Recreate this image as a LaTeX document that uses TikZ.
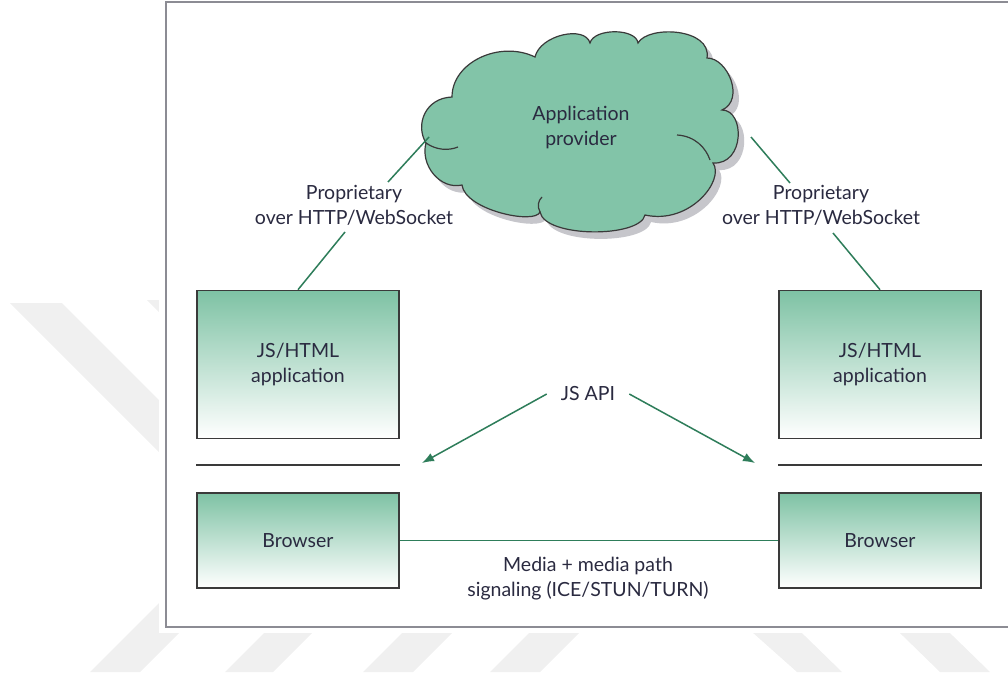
\documentclass[tikz,border=0pt]{standalone}
\usepackage{fontspec}
\setmainfont{Lato}
\usetikzlibrary{arrows.meta,calc}

\definecolor{ink}{HTML}{2A2A40}
\definecolor{puffgreen}{HTML}{82C4A8}
\definecolor{boxgreen}{HTML}{7EC2A4}
\definecolor{linkgreen}{HTML}{2E7D5A}
\definecolor{edgegray}{HTML}{3A3A3A}
\definecolor{framegray}{HTML}{8C8C94}
\definecolor{shadowgray}{HTML}{C6C6CB}
\definecolor{markgray}{HTML}{F0F0F0}

\newcommand\lblfont{\fontsize{19.5}{25}\selectfont}

% outline of the provider cloud (one puff per curve segment)
\newcommand\cloudoutline{(426,143) .. controls (415,125) and (425,98) .. (452,97)
  .. controls (452,62) and (500,40) .. (535,57)
  .. controls (540,35) and (585,25) .. (590,43)
  .. controls (594,28) and (636,28) .. (638,43)
  .. controls (648,25) and (712,28) .. (707,58)
  .. controls (728,58) and (745,100) .. (722,110)
  .. controls (745,110) and (745,165) .. (713,163)
  .. controls (725,180) and (690,225) .. (645,215)
  .. controls (640,238) and (545,238) .. (540,212)
  .. controls (535,225) and (465,210) .. (462,185)
  .. controls (440,190) and (420,165) .. (426,143) -- cycle}

\tikzset{
  txt/.style={font=\lblfont, text=ink, align=center, inner sep=2pt},
  appbox/.style={txt, draw=edgegray, line width=1.6pt, top color=boxgreen,
    bottom color=white, minimum width=202pt, minimum height=148pt},
  browserbox/.style={appbox, minimum height=95pt},
  link/.style={draw=linkgreen, line width=1.5pt},
  apiarrow/.style={link, -{Latex[length=12pt,width=9pt]}},
  sepline/.style={draw=edgegray, line width=1.8pt},
  cloudline/.style={draw=edgegray, line width=1.2pt},
  markband/.style={fill=markgray}
}

\begin{document}
\begin{tikzpicture}[x=1pt,y=-1pt]
\useasboundingbox (0,0) rectangle (1008,677);

% faint background bands around the figure
\fill[markband] (10,303) -- (62,303) -- (200,441) -- (200,493) -- cycle;
\fill[markband] (147,300) -- (199,300) -- (299,400) -- (247,400) -- cycle;
\fill[markband] (90,672) -- (140,672) -- (212,600) -- (162,600) -- cycle;
\fill[markband] (225,672) -- (273,672) -- (345,600) -- (297,600) -- cycle;
\fill[markband] (363,672) -- (413,672) -- (485,600) -- (435,600) -- cycle;
\fill[markband] (490,672) -- (540,672) -- (612,600) -- (562,600) -- cycle;
\fill[markband] (716,600) -- (768,600) -- (842,672) -- (797,672) -- cycle;
\fill[markband] (866,600) -- (916,600) -- (990,672) -- (940,672) -- cycle;

% figure sheet and its frame
\fill[white] (159,-5) rectangle (1015,633);
\draw[framegray, line width=2pt] (166,2) rectangle (1020,627);

% cloud with drop shadow
\fill[shadowgray, shift={(6,7)}] \cloudoutline;
\filldraw[fill=puffgreen, draw=edgegray, line width=1.2pt] \cloudoutline;
\draw[cloudline] (426,143) .. controls (436,150) and (448,151) .. (458,147);
\draw[cloudline] (677,135) .. controls (695,136) and (706,148) .. (710,160);
\draw[cloudline] (540,212) .. controls (537,206) and (538,201) .. (542,197);
\node[txt] (cloud) at (581,127) {Application\\provider};

% application and browser boxes
\node[appbox] (jsL) at (298,364.5) {JS/HTML\\application};
\node[appbox] (jsR) at (880,364.5) {JS/HTML\\application};
\node[browserbox] (brL) at (298,540.5) {Browser};
\node[browserbox] (brR) at (880,540.5) {Browser};

\draw[sepline] ([yshift=-26pt]jsL.south west) -- ([yshift=-26pt]jsL.south east);
\draw[sepline] ([yshift=-26pt]jsR.south west) -- ([yshift=-26pt]jsR.south east);

% labels
\node[txt] (lblL) at (354,205.5) {Proprietary\\over HTTP/WebSocket};
\node[txt] (lblR) at (821,205.5) {Proprietary\\over HTTP/WebSocket};
\node[txt, inner xsep=14pt] (api) at (588,394) {JS API};
\node[txt] (media) at (588,578.5) {Media + media path\\signaling (ICE/STUN/TURN)};

% signalling links to the provider
\coordinate (cLa) at (429,137);
\coordinate (cLb) at (388,182);
\coordinate (lLa) at (345,232);
\coordinate (cRa) at (751,137);
\coordinate (cRb) at (790,183);
\coordinate (lRa) at (833,233);
\draw[link] (cLa) -- (cLb);
\draw[link] (lLa) -- (jsL.north);
\draw[link] (cRa) -- (cRb);
\draw[link] (lRa) -- (jsR.north);

% JS API arrows
\coordinate (tipL) at (422,463);
\coordinate (tipR) at (755,463);
\draw[apiarrow] (api.west) -- (tipL);
\draw[apiarrow] (api.east) -- (tipR);

% media path between browsers
\draw[link] (brL.east) -- (brR.west);
\end{tikzpicture}
\end{document}
